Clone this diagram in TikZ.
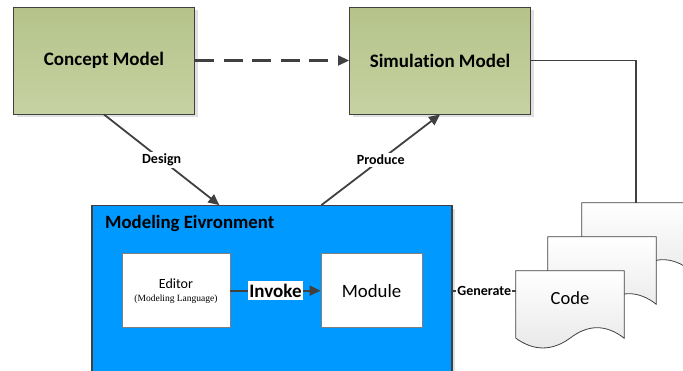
\documentclass[tikz,border=0pt]{standalone}
\usepackage{fontspec}
\setmainfont{Carlito}[Ligatures=NoCommon]
\newfontfamily\timesfont{Liberation Serif}
\usetikzlibrary{arrows.meta,calc,shadows}

\definecolor{linegray}{HTML}{404040}
\definecolor{boxgray}{HTML}{7F7F7F}
\definecolor{greentop}{HTML}{B5C38A}
\definecolor{greenbot}{HTML}{C6D2A2}
\definecolor{envblue}{HTML}{0099FF}

\tikzset{
  lightshadow/.style={drop shadow={shadow xshift=3pt, shadow yshift=-3pt, fill=black!12, opacity=1}},
  greenbox/.style={draw=linegray, line width=1pt, top color=greentop, bottom color=greenbot,
    minimum width=181pt, minimum height=107pt, inner sep=0pt,
    font=\fontsize{19}{21}\selectfont\bfseries, lightshadow},
  envbox/.style={draw=linegray, line width=1.2pt, fill=envblue,
    minimum width=360pt, minimum height=190pt, inner sep=0pt, lightshadow},
  whitebox/.style={draw=boxgray, line width=0.8pt, fill=white,
    minimum height=74pt, inner sep=0pt, align=center},
  docframe/.style={minimum width=108pt, minimum height=67pt, inner sep=0pt},
  docline/.style={draw=linegray, line width=0.8pt, top color=white, bottom color=black!9},
  conn/.style={draw=linegray, line width=1.8pt},
  tip/.style={-{Triangle[length=11pt,width=10pt]}},
  dashconn/.style={conn, line width=2.2pt, dash pattern=on 19pt off 9.5pt},
  lbl/.style={fill=white, font=\fontsize{14}{15}\selectfont\bfseries, inner sep=2pt},
}

% paper sheet with a wavy lower edge, drawn over a named frame node
\newcommand\papersheet[1]{%
  \path[docline] (#1.north west) -- (#1.north east) -- (#1.south east)
    .. controls ($(#1.south east)+(-18,-14)$) and ($(#1.south)+(18,-14)$) .. (#1.south)
    .. controls ($(#1.south)+(-18,13)$) and ($(#1.south west)+(18,13)$) .. (#1.south west)
    -- cycle;}

\begin{document}
\begin{tikzpicture}[x=1pt, y=-1pt]
  \path[use as bounding box, clip] (0,0) rectangle (683,370);

  % the two models
  \node[greenbox] (concept) at (104,60.5) {Concept Model};
  \node[greenbox] (sim) at (440,60.5) {Simulation Model};

  % modeling environment with its inner parts
  \node[envbox] (env) at (272,300.7) {};
  \node[anchor=west, font=\fontsize{18.8}{21}\selectfont\bfseries, inner sep=0pt]
    (envtitle) at (105,223) {Modeling Eivronment};
  \node[whitebox, minimum width=108pt] (editor) at (176,290.7)
    {{\fontsize{14}{15}\selectfont Editor}\\[1pt]
     {\timesfont\fontsize{9.5}{11}\selectfont (Modeling Language)}};
  \node[whitebox, minimum width=101pt, font=\fontsize{18.8}{20}\selectfont] (module)
    at (371.5,290.7) {Module};

  % stacked code sheets
  \node[docframe] (doc3) at (636,236.5) {};
  \node[docframe] (doc2) at (602,270.5) {};
  \node[docframe] (doc1) at (570,304.5) {};
  \papersheet{doc3}
  \papersheet{doc2}
  \papersheet{doc1}
  \node[font=\fontsize{18.5}{20}\selectfont, inner sep=0pt] (code) at (570,298) {Code};

  % connectors
  \draw[dashconn, tip] (concept) -- (sim);
  \draw[conn] (sim.east) -| (doc3.north);
  \coordinate (designend) at ($(env.north west)+(128,0)$);
  \coordinate (producestart) at ($(env.north west)+(230,0)$);
  \draw[conn, tip] (concept.south) -- (designend) node[midway, lbl] {Design};
  \draw[conn, tip] (producestart) -- (sim.south) node[midway, lbl] {Produce};
  \draw[conn, tip] (editor) -- (module)
    node[midway, fill=white, font=\fontsize{19}{21}\selectfont\bfseries,
         inner xsep=1pt, inner ysep=3pt] {Invoke};
  \draw[conn] (module.east -| env.east) -- (module.east -| doc1.west)
    node[midway, lbl, inner sep=1pt] {Generate};
\end{tikzpicture}
\end{document}
